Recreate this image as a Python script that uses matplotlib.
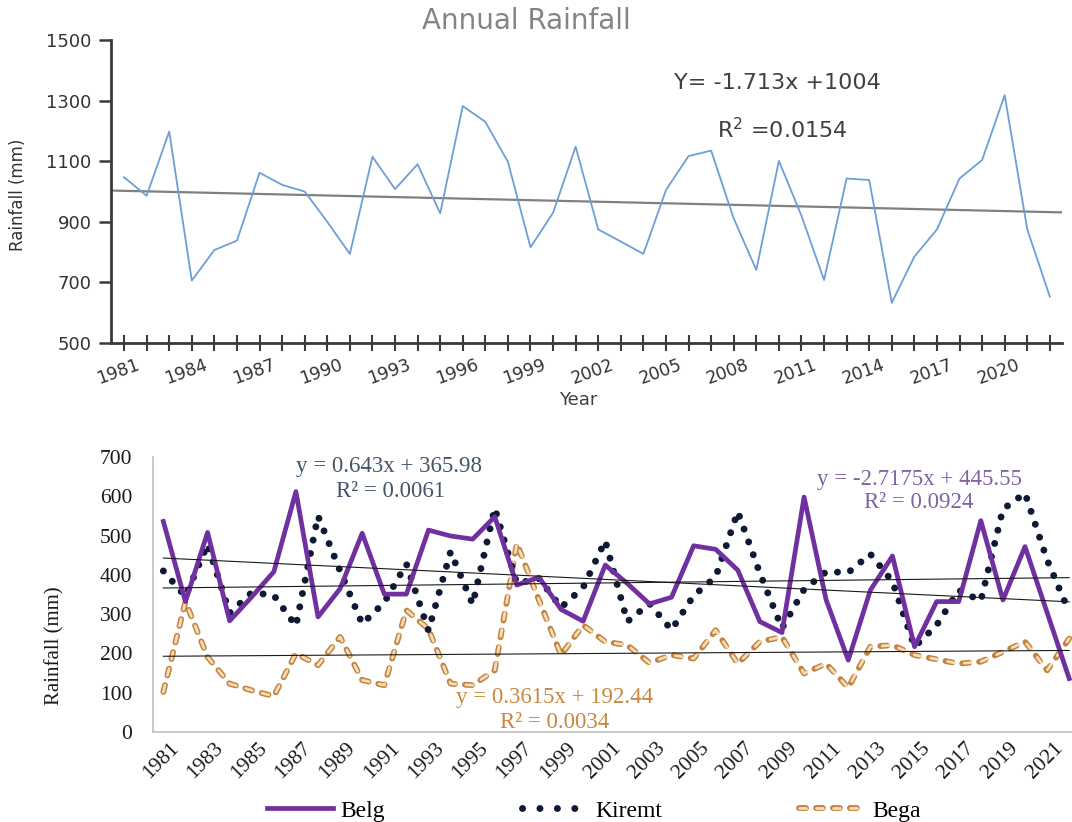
import numpy as np
import matplotlib
matplotlib.use("Agg")
import matplotlib.pyplot as plt
import matplotlib.transforms as mtransforms
from matplotlib.lines import Line2D
from matplotlib.legend_handler import HandlerTuple

# ----------------------------------------------------------------------
# Data
# ----------------------------------------------------------------------
years = np.arange(1981, 2023)

annual = [1047, 986, 1198, 706, 807, 838, 1062, 1022, 1000, 900,
          794, 1115, 1008, 1090, 928, 1282, 1230, 1098, 816, 930,
          1148, 875, 835, 794, 1005, 1117, 1135, 911, 741, 1101,
          920, 708, 1043, 1038, 633, 785, 875, 1043, 1104, 1318,
          875, 653]

belg = [536, 332, 508, 283, 344, 408, 612, 293, 365, 506,
        351, 351, 514, 499, 491, 548, 374, 394, 312, 282,
        425, 378, 326, 343, 474, 465, 412, 281, 253, 598,
        336, 183, 361, 448, 217, 332, 332, 538, 336, 472,
        304, 136]

kiremt = [410, 345, 478, 303, 355, 348, 270, 550, 410, 275,
          330, 428, 258, 459, 325, 570, 378, 391, 317, 368,
          487, 281, 327, 260, 347, 395, 561, 404, 264, 363,
          408, 406, 453, 383, 217, 272, 361, 334, 567, 608,
          438, 305]

bega = [102, 332, 191, 123, 106, 91, 200, 170, 242, 132,
        119, 310, 262, 123, 119, 157, 480, 336, 196, 272,
        230, 221, 176, 196, 187, 259, 174, 230, 242, 149,
        174, 113, 217, 221, 196, 185, 174, 179, 204, 230,
        157, 238]

# trend equations as printed on the charts (x = 1, 2, ... from 1981)
annual_fit = (-1.713, 1004)
belg_fit = (-2.7175, 445.55)
kiremt_fit = (0.643, 365.98)
bega_fit = (0.3615, 192.44)

top_yticks = [500, 700, 900, 1100, 1300, 1500]
bottom_yticks = [0, 100, 200, 300, 400, 500, 600, 700]

# ----------------------------------------------------------------------
# Figure
# ----------------------------------------------------------------------
fig = plt.figure(figsize=(10.72, 8.22), dpi=100)

# ======================= TOP: Annual Rainfall ==========================
sans = "DejaVu Sans"
ax1 = fig.add_axes([0.1035, 0.5827, 0.887, 0.3686])
ax1.set_xlim(1980.42, 2022.53)
ax1.set_ylim(500, 1500)

ax1.plot(years, annual, color="#6e9ed6", lw=1.3, zorder=3)
xt = np.array(ax1.get_xlim())
ax1.plot(xt, annual_fit[0] * (xt - 1980) + annual_fit[1], color="#808080", lw=1.6, zorder=2)

for s in ["top", "right"]:
    ax1.spines[s].set_visible(False)
for s in ["left", "bottom"]:
    ax1.spines[s].set_color("#3a3a3a")
    ax1.spines[s].set_linewidth(2)

ax1.set_yticks(top_yticks)
ax1.set_xticks(years)
ax1.set_xticklabels([str(y) if (y - 1981) % 3 == 0 else "" for y in years])
ax1.tick_params(axis="y", direction="out", length=9, width=1.8, color="#3a3a3a",
                labelsize=13, labelcolor="#333333", pad=5)
ax1.tick_params(axis="x", direction="inout", length=12, width=1.5, color="#3a3a3a",
                labelsize=12.5, labelcolor="#333333", pad=2)
for lab in ax1.get_yticklabels() + ax1.get_xticklabels():
    lab.set_family(sans)
off = mtransforms.ScaledTranslation(12 / 100, -2 / 100, fig.dpi_scale_trans)
for lab in ax1.get_xticklabels():
    lab.set_rotation(20)
    lab.set_ha("right")
    lab.set_va("top")
    lab.set_rotation_mode("anchor")
    lab.set_transform(lab.get_transform() + off)

ax1.text(2009.95, 1357, "Y= -1.713x +1004", ha="center", va="center",
         fontsize=16, color="#404040", family=sans)
ax1.text(2010.17, 1206, r"R$^{2}$ =0.0154", ha="center", va="center",
         fontsize=16, color="#404040", family=sans)

fig.text(0.491, 0.974, "Annual Rainfall", ha="center", va="center",
         fontsize=20, color="#858585", family=sans)
fig.text(0.539, 0.513, "Year", ha="center", va="center",
         fontsize=13, color="#404040", family=sans)
fig.text(0.0168, 0.763, "Rainfall (mm)", ha="center", va="center",
         rotation=90, fontsize=12, color="#333333", family=sans)

# ===================== BOTTOM: seasonal rainfall ========================
serif = "Liberation Serif"
ax2 = fig.add_axes([0.1427, 0.1095, 0.865, 0.3345])
ax2.set_xlim(1980.53, 2022.5)
ax2.set_ylim(0, 700)

c_belg = "#7030a0"
c_kir = "#0e1a34"
c_bega_edge = "#c2843f"
c_bega_fill = "#f5dcb8"

kir_style = (0, (0.01, 1.95))
bega_outer = (0, (1.2, 1.71))
bega_inner = (0, (2.52, 3.6))

ax2.plot(years, belg, color=c_belg, lw=3.4, zorder=4)
ax2.plot(years, kiremt, color=c_kir, lw=5, linestyle=kir_style,
         dash_capstyle="round", zorder=3)
ax2.plot(years, bega, color=c_bega_edge, lw=4.2, linestyle=bega_outer,
         dash_capstyle="round", zorder=2)
ax2.plot(years, bega, color=c_bega_fill, lw=2.0, linestyle=bega_inner,
         dash_capstyle="round", zorder=2)

xf = np.array([1981, 2022])
for fit in (belg_fit, kiremt_fit, bega_fit):
    ax2.plot(xf, fit[0] * (xf - 1980) + fit[1], color="#1a1a1a", lw=0.8, zorder=5)

for s in ["top", "right"]:
    ax2.spines[s].set_visible(False)
for s in ["left", "bottom"]:
    ax2.spines[s].set_color("#bfbfbf")
    ax2.spines[s].set_linewidth(1.2)

ax2.set_yticks(bottom_yticks)
ax2.set_xticks(years[::2])
ax2.set_xticklabels([str(y) for y in years[::2]])
ax2.tick_params(axis="both", length=0, labelsize=15.5, labelcolor="#1a1a1a")
ax2.tick_params(axis="y", pad=15)
ax2.tick_params(axis="x", pad=5)
for lab in ax2.get_yticklabels() + ax2.get_xticklabels():
    lab.set_family(serif)
off2 = mtransforms.ScaledTranslation(6 / 100, 0, fig.dpi_scale_trans)
for lab in ax2.get_xticklabels():
    lab.set_rotation(45)
    lab.set_ha("right")
    lab.set_va("top")
    lab.set_rotation_mode("anchor")
    lab.set_transform(lab.get_transform() + off2)

ax2.text(1991.2, 677, "y = 0.643x + 365.98", ha="center", va="center",
         fontsize=16.5, color="#44546a", family=serif)
ax2.text(1991.3, 613, "R² = 0.0061", ha="center", va="center",
         fontsize=16.5, color="#44546a", family=serif)
ax2.text(2015.2, 644, "y = -2.7175x + 445.55", ha="center", va="center",
         fontsize=16.5, color="#8064a2", family=serif)
ax2.text(2015.2, 583, "R² = 0.0924", ha="center", va="center",
         fontsize=16.5, color="#8064a2", family=serif)
ax2.text(1998.7, 87, "y = 0.3615x + 192.44", ha="center", va="center",
         fontsize=16.5, color="#c8883e", family=serif)
ax2.text(1998.7, 25, "R² = 0.0034", ha="center", va="center",
         fontsize=16.5, color="#c8883e", family=serif)

fig.text(0.0513, 0.215, "Rainfall (mm)", ha="center", va="center",
         rotation=90, fontsize=15, color="#1a1a1a", family=serif)

# legend
h_belg = Line2D([], [], color=c_belg, lw=3.4)
h_kir = Line2D([], [], color=c_kir, lw=5, linestyle=(0, (0.01, 2.5)),
               dash_capstyle="round")
h_bega_o = Line2D([], [], color=c_bega_edge, lw=4.2, linestyle=bega_outer,
                  dash_capstyle="round")
h_bega_i = Line2D([], [], color=c_bega_fill, lw=2.0, linestyle=bega_inner,
                  dash_capstyle="round")
leg = fig.legend([h_belg, h_kir, (h_bega_o, h_bega_i)], ["Belg", "Kiremt", "Bega"],
                 handler_map={tuple: HandlerTuple(ndivide=1)},
                 loc="center", bbox_to_anchor=(0.554, 0.0134), ncol=3, frameon=False,
                 handlelength=2.8, handletextpad=0.3, columnspacing=5.8,
                 prop={"family": serif, "size": 17})

fig.savefig("out.png", dpi=100)
